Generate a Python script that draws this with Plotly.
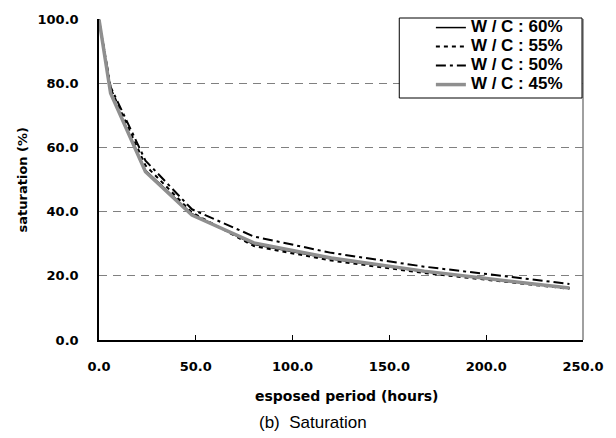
import plotly.graph_objects as go

hours = [0, 6, 24, 48, 80, 120, 168, 216, 243]
wc60 = [100, 77.5, 53.0, 39.4, 29.8, 25.3, 21.3, 18.1, 16.3]
wc55 = [100, 78.5, 54.5, 39.8, 29.3, 24.8, 20.9, 17.8, 16.0]
wc50 = [100, 79.0, 56.0, 40.8, 32.3, 27.2, 22.9, 19.5, 17.5]
wc45 = [100, 77.0, 52.5, 39.0, 30.3, 25.6, 21.5, 18.2, 16.2]
names = ["W / C : 60%", "W / C : 55%", "W / C : 50%", "W / C : 45%"]
x_ticks = [0, 50, 100, 150, 200, 250]
y_ticks = [0, 20, 40, 60, 80, 100]

BOLD = "DejaVu Sans"
LEG = "Liberation Sans"

fig = go.Figure()
styles = [
    dict(color="black", width=1.5, dash="solid"),
    dict(color="black", width=2, dash="4px,4px"),
    dict(color="black", width=2, dash="10px,4px,3px,4px"),
    dict(color="#8f8f8f", width=3.5, dash="solid"),
]
for name, ys, st in zip(names, [wc60, wc55, wc50, wc45], styles):
    fig.add_trace(go.Scatter(
        x=hours, y=ys, mode="lines",
        name=f'<span style="font-size:17px">{name}</span>', line=st))

fig.update_layout(
    width=616, height=438,
    margin=dict(l=99, r=27, t=15, b=98),
    paper_bgcolor="white", plot_bgcolor="white",
    showlegend=True,
    legend=dict(
        x=(435 - 99) / 490, y=(340 - 9) / 325, xanchor="left", yanchor="top",
        bgcolor="rgba(0,0,0,0)", borderwidth=0,
        font=dict(family=LEG, size=12.2, color="black", weight="bold"),
        tracegroupgap=0,
    ),
    shapes=[
        dict(type="rect", xref="paper", yref="paper",
             x0=(403 - 99) / 490, x1=(588 - 99) / 490,
             y0=(340 - 95) / 325, y1=(340 - 14) / 325,
             line=dict(color="black", width=1), fillcolor="white", layer="above"),
        dict(type="line", xref="paper", yref="paper", x0=1, x1=1, y0=0, y1=1,
             line=dict(color="#808080", width=1.5), layer="below"),
    ],
    annotations=[
        dict(text="esposed period (hours)", xref="paper", yref="paper",
             x=(350 - 99) / 490, y=(340 - 397) / 325,
             xanchor="center", yanchor="middle", showarrow=False,
             font=dict(family=BOLD, size=14, color="black", weight="bold")),
        dict(text="saturation (%)", xref="paper", yref="paper",
             x=(22 - 99) / 490, y=0.5, textangle=-90,
             xanchor="center", yanchor="middle", showarrow=False,
             font=dict(family=BOLD, size=13, color="black", weight="bold")),
        dict(text="(b)  Saturation", xref="paper", yref="paper",
             x=(316 - 99) / 490, y=(340 - 424) / 325,
             xanchor="center", yanchor="middle", showarrow=False,
             font=dict(family="Liberation Sans", size=17, color="black")),
    ],
)

fig.update_xaxes(
    range=[0, 250], tickvals=x_ticks, ticktext=[f"{v:.1f}" for v in x_ticks],
    showline=True, linecolor="black", linewidth=1.5,
    ticks="inside", ticklen=5, tickcolor="black", tickwidth=1,
    showgrid=False, zeroline=False, ticklabelstandoff=14,
    tickfont=dict(family=BOLD, size=13, color="black", weight="bold"),
)
fig.update_yaxes(
    range=[0, 100.2], tickvals=y_ticks, ticktext=[f"{v:.1f}" for v in y_ticks],
    showline=True, linecolor="black", linewidth=1.5,
    ticks="", showgrid=True, gridcolor="#808080", gridwidth=1,
    griddash="8px,6px", zeroline=False, ticklabelstandoff=16,
    tickfont=dict(family=BOLD, size=13, color="black", weight="bold"),
)

fig.write_html("out.html")
